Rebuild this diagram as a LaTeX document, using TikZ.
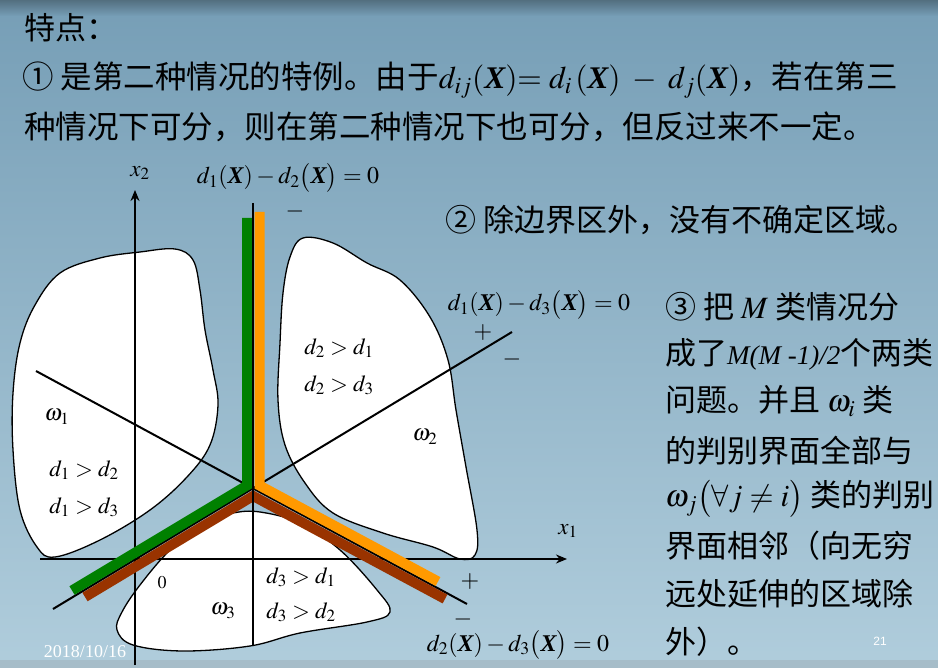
\documentclass[tikz,border=0pt]{standalone}
\usepackage{mathptmx}
\usepackage{fontspec}
\setmainfont{Liberation Serif}
\newfontfamily\cjk{Noto Sans CJK SC}
\newfontfamily\pagefont{Liberation Sans}
\usetikzlibrary{arrows.meta}

\definecolor{slidetop}{RGB}{118,158,182}
\definecolor{slidemid}{RGB}{152,189,208}
\definecolor{slidelow}{RGB}{176,205,220}
\definecolor{bandgreen}{RGB}{0,128,0}
\definecolor{bandorange}{RGB}{255,153,0}
\definecolor{bandbrown}{RGB}{153,51,0}

\newcommand{\bX}{\mbox{\rmfamily\bfseries\itshape X}}

\tikzset{
  region/.style={draw=black, fill=white, line width=1.3pt},
  axis/.style={line width=2pt, -{Stealth[length=11pt,width=9pt]}},
  border/.style={line width=2pt},
  band/.style={line width=10pt, line join=miter},
  cjktext/.style={font=\cjk\fontsize{31}{37}\selectfont, anchor=west, inner sep=0pt},
  mathlbl/.style={font=\fontsize{23}{26}\selectfont, inner sep=0pt},
  eqlbl/.style={font=\fontsize{24}{27}\selectfont, inner sep=0pt}
}

\begin{document}
\begin{tikzpicture}[x=1pt, y=-1pt]
  % slide background
  \fill[top color=slidetop, middle color=slidemid, bottom color=slidelow]
    (0,0) rectangle (938,668);
  \fill[top color=slidetop!70!black, bottom color=slidetop] (0,0) rectangle (938,16);
  \fill[slidelow!80!gray] (0,660) rectangle (938,668);
  \useasboundingbox (0,0) rectangle (938,668);

  % text at the top
  \node[cjktext] (title) at (24,28) {特点：};
  \node[cjktext, font=\cjk\fontsize{31.5}{37}\selectfont] (first) at (22,80)
    {① 是第二种情况的特例。由于$d_{ij}(\bX){=}\ d_i\,(\bX)\ -\ d_j(\bX)$，若在第三};
  \node[cjktext, font=\cjk\fontsize{31.5}{37}\selectfont] (firstb) at (24,127)
    {种情况下可分，则在第二种情况下也可分，但反过来不一定。};
  \node[cjktext] (second) at (445,220) {② 除边界区外，没有不确定区域。};

  % right column
  \node[cjktext] (third) at (665,307) {③ 把 $M$ 类情况分};
  \node[cjktext] (thirdb) at (665,354)
    {成了{\rmfamily\itshape\fontsize{27}{30}\selectfont M(M -1)/2}个两类};
  \node[cjktext] (thirdc) at (665,401) {问题。并且 $\omega_i$ 类};
  \node[cjktext] (thirdd) at (665,451) {的判别界面全部与};
  \node[cjktext] (thirde) at (665,499) {$\omega_j\bigl(\forall j\neq i\bigr)$ 类的判别};
  \node[cjktext] (thirdf) at (665,546) {界面相邻（向无穷};
  \node[cjktext] (thirdg) at (665,594) {远处延伸的区域除};
  \node[cjktext] (thirdh) at (665,642) {外）。};

  % class regions
  \draw[region] plot[smooth cycle, tension=0.6] coordinates {
    (60,273) (100,258) (140,252) (175,249) (193,260) (200,290) (205,330)
    (213,370) (218,405) (210,445) (187,477) (150,510) (100,540) (55,557)
    (37,547) (20,510) (13,450) (13,393) (20,343) (35,305)};
  \draw[region] plot[smooth cycle, tension=0.6] coordinates {
    (303,238) (333,243) (367,263) (400,280) (430,317) (448,360) (456,410)
    (466,467) (477,530) (475,555) (460,559) (433,547) (383,533) (333,513)
    (305,483) (285,445) (278,400) (280,343) (283,293) (290,257)};
  \draw[region] plot[smooth cycle, tension=0.6] coordinates {
    (233,513) (260,512) (300,523) (340,550) (377,590) (390,612) (367,622)
    (300,633) (250,646) (183,651) (133,645) (117,630) (122,612) (140,585)
    (170,550) (205,522)};

  % axes
  \coordinate (xstart) at (40,559);
  \coordinate (xend) at (567,559);
  \coordinate (ystart) at (135,665);
  \coordinate (yend) at (135,190);
  \draw[axis] (xstart) -- (xend);
  \draw[axis] (ystart) -- (yend);
  \node[mathlbl] (xone) at (568,531) {$x_1$};
  \node[mathlbl] (xtwo) at (140,173) {$x_2$};
  \node[mathlbl, font=\fontsize{18}{20}\selectfont] (orig) at (162,583) {$0$};

  % decision boundaries
  \coordinate (O) at (253,489);
  \coordinate (b13a) at (53,609);
  \coordinate (b13b) at (512,332);
  \coordinate (b23a) at (36,371);
  \coordinate (b23b) at (467,604);
  \coordinate (b12a) at (253,203);
  \coordinate (b12b) at (253,645);
  \draw[border] (b13a) -- (b13b);
  \draw[border] (b23a) -- (b23b);

  % class boundaries
  \draw[band, bandgreen] (247,218) -- (247,485.5) -- (72,590.5);
  \draw[band, bandorange] (259.5,212) -- (259.5,485.5) -- (438,581.5);
  \draw[band, bandbrown] (85,597) -- (253.1,496) -- (445,599);
  \draw[border] (b12a) -- (b12b);

  % boundary labels
  \node[eqlbl] (eq12) at (288,178) {$d_1(\bX)-d_2\bigl(\bX\bigr)=0$};
  \node[eqlbl] (m12) at (295,212) {$-$};
  \node[eqlbl] (eq13) at (539,305) {$d_1(\bX)-d_3\bigl(\bX\bigr)=0$};
  \node[eqlbl] (p13) at (483,333) {$+$};
  \node[eqlbl] (m13) at (512,360) {$-$};
  \node[eqlbl] (eq23) at (518,645) {$d_2(\bX)-d_3\bigl(\bX\bigr)=0$};
  \node[eqlbl] (p23) at (470,582) {$+$};
  \node[eqlbl] (m23) at (463,619) {$-$};

  % region labels
  \node[mathlbl] (wone) at (57,417) {$\omega_1$};
  \node[mathlbl] (wtwo) at (425,437) {$\omega_2$};
  \node[mathlbl] (wthree) at (223,611) {$\omega_3$};
  \node[mathlbl] (rone) at (84,470) {$d_1>d_2$};
  \node[mathlbl] (roneb) at (84,507) {$d_1>d_3$};
  \node[mathlbl] (rtwo) at (339,348) {$d_2>d_1$};
  \node[mathlbl] (rtwob) at (339,385) {$d_2>d_3$};
  \node[mathlbl] (rthree) at (301,577) {$d_3>d_1$};
  \node[mathlbl] (rthreeb) at (301,612) {$d_3>d_2$};

  % footer
  \node[white, inner sep=0pt, font=\fontsize{18}{20}\selectfont] (date) at (85,652) {2018/10/16};
  \node[white, inner sep=0pt, font=\pagefont\fontsize{12}{14}\selectfont] (page) at (880,641) {21};
\end{tikzpicture}
\end{document}
